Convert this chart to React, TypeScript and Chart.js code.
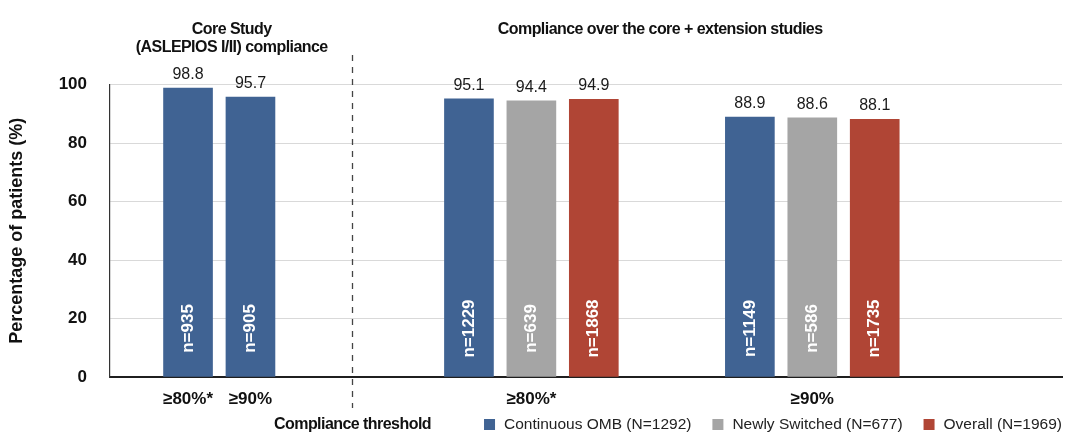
import React, { useEffect, useRef } from 'react';
import { Chart, registerables } from 'chart.js';

Chart.register(...registerables);

// compliance thresholds under the bars
const coreThresholds = ['≥80%*', '≥90%'];
const extThresholds = ['≥80%*', '≥90%'];

// core study (ASLEPIOS I/II) - continuous OMB patients only
const coreValues = [98.8, 95.7];
const coreN = [935, 905];

// core + extension studies
const continuousValues = [95.1, 88.9];
const continuousN = [1229, 1149];
const switchedValues = [94.4, 88.6];
const switchedN = [639, 586];
const overallValues = [94.9, 88.1];
const overallN = [1868, 1735];

const seriesNames = ['Continuous OMB (N=1292)', 'Newly Switched (N=677)', 'Overall (N=1969)'];
const yTicks = [0, 20, 40, 60, 80, 100];

const coreHeading = ['Core Study', '(ASLEPIOS I/II) compliance'];
const extHeading = 'Compliance over the core + extension studies';
const xTitle = 'Compliance threshold';
const yTitle = 'Percentage of patients (%)';

// layout: x axis is a grid of half-steps, bars sit on some of them
const SLOTS = 62;
const CORE_SLOTS = [5, 9];
const EXT_GROUP_SLOTS = [23, 41];
const BAR_STEP = 4;
const DIVIDER_SLOT = 15.5;
const HEADING_SLOTS = [7.8, 35.25];

const COLORS = ['#406393', '#a5a5a5', '#b04535'];
const FONT = "'Liberation Sans', Arial, sans-serif";

const blank = () => new Array(SLOTS).fill(null);

const labels: string[] = new Array(SLOTS).fill('');
const values = [blank(), blank(), blank()];
const counts = [blank(), blank(), blank()];

CORE_SLOTS.forEach((s, i) => {
  labels[s] = coreThresholds[i];
  values[0][s] = coreValues[i];
  counts[0][s] = coreN[i];
});
EXT_GROUP_SLOTS.forEach((s, g) => {
  labels[s + BAR_STEP] = extThresholds[g];
  values[0][s] = continuousValues[g];
  counts[0][s] = continuousN[g];
  values[1][s + BAR_STEP] = switchedValues[g];
  counts[1][s + BAR_STEP] = switchedN[g];
  values[2][s + 2 * BAR_STEP] = overallValues[g];
  counts[2][s + 2 * BAR_STEP] = overallN[g];
});

const barLabels = {
  id: 'barLabels',
  afterDatasetsDraw(chart: any) {
    const ctx = chart.ctx;
    chart.data.datasets.forEach((ds: any, di: number) => {
      const meta = chart.getDatasetMeta(di);
      meta.data.forEach((el: any, i: number) => {
        const v = ds.data[i];
        if (v === null || v === undefined) return;
        ctx.save();
        ctx.fillStyle = '#1a1a1a';
        ctx.font = `16px ${FONT}`;
        ctx.textAlign = 'center';
        ctx.textBaseline = 'alphabetic';
        ctx.fillText(v.toFixed(1), el.x, el.y - 9);
        ctx.translate(el.x, el.base - 48);
        ctx.rotate(-Math.PI / 2);
        ctx.fillStyle = '#ffffff';
        ctx.font = `bold 17px ${FONT}`;
        ctx.textBaseline = 'middle';
        ctx.fillText('n=' + counts[di][i], 0, 0);
        ctx.restore();
      });
    });
  },
};

// headings, divider, x title and the legend row
const decor = {
  id: 'decor',
  afterDraw(chart: any) {
    const ctx = chart.ctx;
    const x = chart.scales.x;
    const divX = Math.round(x.getPixelForValue(DIVIDER_SLOT)) + 0.5;
    ctx.save();
    ctx.strokeStyle = '#444';
    ctx.lineWidth = 1.3;
    ctx.setLineDash([6, 6]);
    ctx.beginPath();
    ctx.moveTo(divX, 55);
    ctx.lineTo(divX, 408);
    ctx.stroke();
    ctx.setLineDash([]);

    ctx.fillStyle = '#111';
    ctx.font = `bold 16px ${FONT}`;
    (ctx as any).letterSpacing = '-0.55px';
    ctx.textAlign = 'center';
    ctx.textBaseline = 'alphabetic';
    const cx = x.getPixelForValue(HEADING_SLOTS[0]);
    ctx.fillText(coreHeading[0], cx, 34);
    ctx.fillText(coreHeading[1], cx, 52);
    ctx.fillText(extHeading, x.getPixelForValue(HEADING_SLOTS[1]), 34);
    ctx.textBaseline = 'middle';
    ctx.fillText(xTitle, divX, 425);
    (ctx as any).letterSpacing = '0px';

    // legend, right aligned to the plot edge
    const rowY = 424.5;
    const box = 11;
    ctx.font = `15.5px ${FONT}`;
    ctx.textAlign = 'left';
    let right = chart.chartArea.right;
    for (let i = chart.data.datasets.length - 1; i >= 0; i--) {
      const ds = chart.data.datasets[i];
      const w = ctx.measureText(ds.label).width;
      const tx = right - w;
      ctx.fillStyle = '#222';
      ctx.fillText(ds.label, tx, rowY);
      const bx = tx - 9 - box;
      ctx.fillStyle = ds.backgroundColor;
      ctx.fillRect(bx, rowY - box / 2, box, box);
      right = bx - 21;
    }
    ctx.restore();
  },
};

const App: React.FC = () => {
  const canvasRef = useRef<HTMLCanvasElement | null>(null);

  useEffect(() => {
    document.body.style.margin = '0';
    if (!canvasRef.current) return;

    const chart = new Chart(canvasRef.current, {
      type: 'bar',
      data: {
        labels,
        datasets: seriesNames.map((name, i) => ({
          label: name,
          data: values[i],
          backgroundColor: COLORS[i],
          borderWidth: 0,
          grouped: false,
          barThickness: 49,
        })),
      },
      options: {
        animation: false,
        responsive: false,
        layout: { padding: { top: 84.5, right: 0, bottom: 24.6, left: 0 } },
        scales: {
          x: {
            type: 'category',
            offset: false,
            grid: { display: false, drawTicks: false },
            border: { display: true, color: '#1f1f1f', width: 2 },
            ticks: {
              autoSkip: false,
              maxRotation: 0,
              minRotation: 0,
              padding: 12,
              color: '#111',
              font: { family: FONT, size: 17, weight: 'bold' },
            },
          },
          y: {
            min: 0,
            max: 100,
            afterBuildTicks: (s: any) => {
              s.ticks = yTicks.map((v) => ({ value: v }));
            },
            ticks: {
              padding: 23,
              color: '#111',
              font: { family: FONT, size: 17, weight: 'bold' },
            },
            grid: { color: '#d9d9d9', lineWidth: 1, drawTicks: false },
            border: { display: true, color: '#333', width: 1.2 },
            title: {
              display: true,
              text: yTitle,
              color: '#111',
              font: { family: FONT, size: 18, weight: 'bold' },
              padding: { top: 6, bottom: 0 },
            },
            afterFit: (s: any) => {
              s.width = 110;
            },
          },
          yPad: {
            position: 'right',
            display: true,
            grid: { display: false },
            border: { display: false },
            ticks: { display: false },
            afterFit: (s: any) => {
              s.width = 18;
            },
          },
        },
        plugins: {
          legend: { display: false },
          tooltip: { enabled: false },
        },
      } as any,
      plugins: [barLabels, decor],
    });

    return () => chart.destroy();
  }, []);

  return (
    <div style={{ width: 1080, height: 446, background: '#fff' }}>
      <canvas ref={canvasRef} width={1080} height={446} style={{ display: 'block' }} />
    </div>
  );
};

export default App;
